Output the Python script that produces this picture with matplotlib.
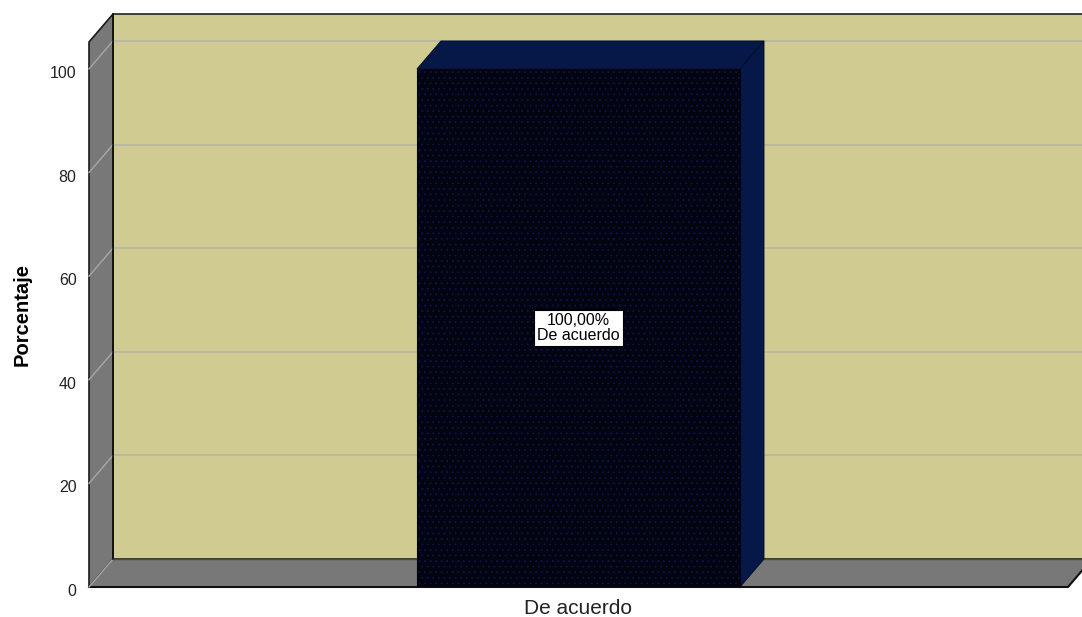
import matplotlib.pyplot as plt
import matplotlib.transforms as mtransforms
from matplotlib.patches import Polygon
import numpy as np

plt.rcParams['font.family'] = ['Liberation Sans', 'DejaVu Sans']
plt.rcParams['hatch.linewidth'] = 0.6

# Frequency table
categories = ['De acuerdo']
percentages = [100.0]
value_labels = ['100,00%\nDe acuerdo']
ytick_values = [0, 20, 40, 60, 80, 100]

# 3D look: depth offset of the back plane, in data units
depth_x = 0.0245
depth_y = 5.4
ymax = 105.2
bar_width = 0.33

wall_color = '#cfcb91'
side_color = '#787878'
bar_front = '#02040f'
bar_dots = '#0b1650'
bar_side = '#061848'

fig = plt.figure(figsize=(10.82, 6.17), dpi=100)
ax = fig.add_axes([89 / 1082, 30 / 617, 979 / 1082, 545 / 617])
ax.set_xlim(-0.5, 0.5)
ax.set_ylim(0, ymax)
for s in ax.spines.values():
    s.set_visible(False)
ax.patch.set_visible(False)

x0, x1 = -0.5, 0.5
dx, dy = depth_x, depth_y

# back wall
ax.add_patch(Polygon([(x0 + dx, dy), (x1 + dx, dy), (x1 + dx, ymax + dy), (x0 + dx, ymax + dy)],
                     closed=True, facecolor=wall_color, edgecolor='#222222', lw=1.2,
                     clip_on=False, zorder=1))
# gridlines on the back wall
for v in ytick_values[1:]:
    ax.plot([x0 + dx, x1 + dx], [v + dy, v + dy], color='#b9b7a2', lw=1.3,
            clip_on=False, zorder=2)

# left wall
ax.add_patch(Polygon([(x0, 0), (x0 + dx, dy), (x0 + dx, ymax + dy), (x0, ymax)],
                     closed=True, facecolor=side_color, edgecolor='#1a1a1a', lw=1.2,
                     clip_on=False, zorder=3))
# floor
ax.add_patch(Polygon([(x0, 0), (x1, 0), (x1 + dx, dy), (x0 + dx, dy)],
                     closed=True, facecolor=side_color, edgecolor='none',
                     clip_on=False, zorder=3))
ax.plot([x0 + dx, x1 + dx], [dy, dy], color='#4a4a4a', lw=1.0, clip_on=False, zorder=3)
ax.plot([x0, x1, x1 + dx], [0, 0, dy], color='#111111', lw=1.5, clip_on=False, zorder=3)
# diagonal grid strokes on the left wall
for v in ytick_values:
    ax.plot([x0, x0 + dx], [v, v + dy], color='#a8a8a8', lw=1.0, clip_on=False, zorder=4)
ax.plot([x0 + dx, x0 + dx], [dy, ymax + dy], color='#111111', lw=1.2, clip_on=False, zorder=4)

# bars
xpos = np.arange(len(categories))
bars = ax.bar(xpos, percentages, width=bar_width, color=bar_front, edgecolor=bar_dots,
              linewidth=0, hatch='...', zorder=6)
for b in bars:
    bx0 = b.get_x()
    bx1 = bx0 + b.get_width()
    h = b.get_height()
    ax.add_patch(Polygon([(bx0, h), (bx1, h), (bx1 + dx, h + dy), (bx0 + dx, h + dy)],
                         closed=True, facecolor=bar_side, edgecolor='#030a20', lw=0.6,
                         zorder=5, clip_on=False))
    ax.add_patch(Polygon([(bx1, 0), (bx1 + dx, dy), (bx1 + dx, h + dy), (bx1, h)],
                         closed=True, facecolor=bar_side, edgecolor='#030a20', lw=0.6,
                         zorder=5, clip_on=False))
    ax.add_patch(Polygon([(bx0, 0), (bx1, 0), (bx1, h), (bx0, h)], closed=True,
                         facecolor='none', edgecolor='#020410', lw=0.8, zorder=7))

for x, v, lab in zip(xpos, percentages, value_labels):
    ax.text(x, v / 2, lab, ha='center', va='center', fontsize=11.5, linespacing=1.0,
            zorder=8, bbox=dict(boxstyle='square,pad=0.2', facecolor='white',
                                edgecolor='black', lw=0.8))

ax.set_xticks(xpos)
ax.set_xticklabels(categories, fontsize=15, color='#222222')
ax.set_yticks(ytick_values)
ax.set_yticklabels([str(v) for v in ytick_values], fontsize=11.5, color='#222222')
ax.tick_params(axis='both', length=0)
ax.tick_params(axis='y', pad=9)
ax.tick_params(axis='x', pad=9)

# nudge the value labels a little below their gridline
shift = mtransforms.ScaledTranslation(0, -3 / 100, fig.dpi_scale_trans)
for lab in ax.get_yticklabels():
    lab.set_transform(lab.get_transform() + shift)

ax.set_ylabel('Porcentaje', fontsize=14.5, fontweight='bold')
ax.yaxis.set_label_coords(-0.059, 0.5)

fig.savefig('out.png', dpi=100)
